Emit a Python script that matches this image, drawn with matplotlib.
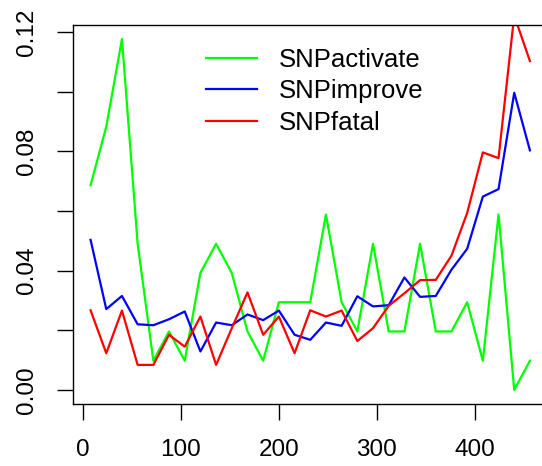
import numpy as np
import matplotlib
matplotlib.use("Agg")
import matplotlib.pyplot as plt

plt.rcParams['font.family'] = ['Liberation Sans', 'DejaVu Sans']

# bin midpoints
pos = [8 + 16 * i for i in range(29)]

snp_activate = [0.0686, 0.0882, 0.1176, 0.0490, 0.0098, 0.0196, 0.0098, 0.0392,
                0.0490, 0.0392, 0.0196, 0.0098, 0.0294, 0.0294, 0.0294, 0.0588,
                0.0294, 0.0196, 0.0490, 0.0196, 0.0196, 0.0490, 0.0196, 0.0196,
                0.0294, 0.0098, 0.0588, 0.0000, 0.0098]
snp_improve = [0.0503, 0.0271, 0.0315, 0.0220, 0.0217, 0.0237, 0.0263, 0.0129,
               0.0226, 0.0217, 0.0253, 0.0234, 0.0266, 0.0185, 0.0168, 0.0226,
               0.0215, 0.0314, 0.0280, 0.0284, 0.0377, 0.0312, 0.0315, 0.0403,
               0.0473, 0.0648, 0.0673, 0.0996, 0.0803]
snp_fatal = [0.0267, 0.0123, 0.0266, 0.0084, 0.0084, 0.0185, 0.0145, 0.0246,
             0.0084, 0.0207, 0.0327, 0.0185, 0.0246, 0.0123, 0.0267, 0.0246,
             0.0266, 0.0164, 0.0207, 0.0282, 0.0324, 0.0368, 0.0369, 0.0450,
             0.0593, 0.0796, 0.0777, 0.1255, 0.1102]

labels = ["SNPactivate", "SNPimprove", "SNPfatal"]
colors = ["#00ff00", "#0000ff", "#ff0000"]

fig = plt.figure(figsize=(5.42, 4.66), dpi=100)
ax = fig.add_axes([73 / 542, 1 - 404 / 466, (547.5 - 73) / 542, (404 - 25) / 466])

for vals, lab, col in zip([snp_activate, snp_improve, snp_fatal], labels, colors):
    ax.plot(pos, vals, color=col, lw=1.6, label=lab)

# R style limits: 4% extension, y range from first series
xr = max(pos) - min(pos)
ax.set_xlim(min(pos) - 0.04 * xr, max(pos) + 0.04 * xr)
m = max(snp_activate)
ax.set_ylim(-0.04 * m, 1.04 * m)

ax.set_xticks([0, 100, 200, 300, 400])
ax.set_yticks([0.0, 0.02, 0.04, 0.06, 0.08, 0.10, 0.12])
ax.set_yticklabels(["0.00", "", "0.04", "", "0.08", "", "0.12"], rotation=90, va="center")
ax.tick_params(direction="out", length=11.5, width=1.0, labelsize=17.5, pad=14)

for s in ax.spines.values():
    s.set_linewidth(1.0)

ax.legend(loc="upper left", bbox_to_anchor=(0.28, 0.94), frameon=False, fontsize=18.5,
          handlelength=2.0, handletextpad=0.85, labelspacing=0.3, borderpad=0,
          borderaxespad=0)

fig.savefig("out.png", dpi=100)
